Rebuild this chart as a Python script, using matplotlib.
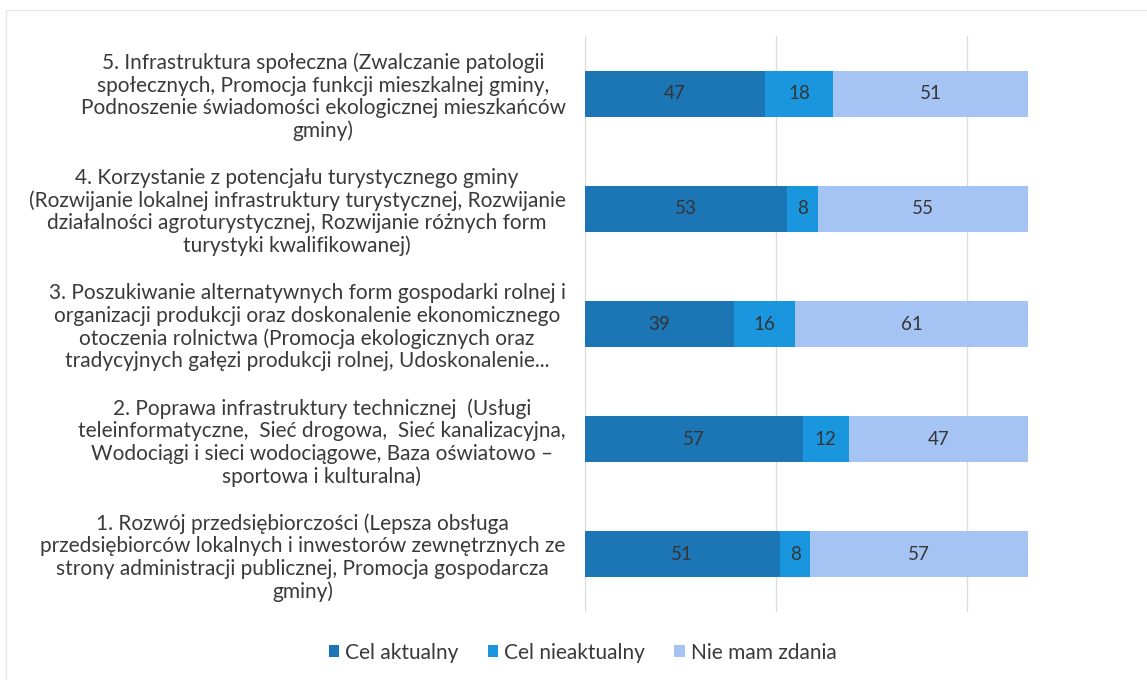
import matplotlib
matplotlib.use("Agg")
import matplotlib.pyplot as plt
from matplotlib.patches import Rectangle

plt.rcParams['font.family'] = ['Lato', 'DejaVu Sans']

kategorie = [
    "1. Rozwój przedsiębiorczości (Lepsza obsługa\n"
    "przedsiębiorców lokalnych i inwestorów zewnętrznych ze\n"
    "strony administracji publicznej, Promocja gospodarcza\n"
    "gminy)",
    "2. Poprawa infrastruktury technicznej  (Usługi\n"
    "teleinformatyczne,  Sieć drogowa,  Sieć kanalizacyjna,\n"
    "Wodociągi i sieci wodociągowe, Baza oświatowo –\n"
    "sportowa i kulturalna)",
    "3. Poszukiwanie alternatywnych form gospodarki rolnej i\n"
    "organizacji produkcji oraz doskonalenie ekonomicznego\n"
    "otoczenia rolnictwa (Promocja ekologicznych oraz\n"
    "tradycyjnych gałęzi produkcji rolnej, Udoskonalenie...",
    "4. Korzystanie z potencjału turystycznego gminy\n"
    "(Rozwijanie lokalnej infrastruktury turystycznej, Rozwijanie\n"
    "działalności agroturystycznej, Rozwijanie różnych form\n"
    "turystyki kwalifikowanej)",
    "5. Infrastruktura społeczna (Zwalczanie patologii\n"
    "społecznych, Promocja funkcji mieszkalnej gminy,\n"
    "Podnoszenie świadomości ekologicznej mieszkańców\n"
    "gminy)",
]
cel_aktualny = [51, 57, 39, 53, 47]
cel_nieaktualny = [8, 12, 16, 8, 18]
nie_mam_zdania = [57, 47, 61, 55, 51]

serie = ["Cel aktualny", "Cel nieaktualny", "Nie mam zdania"]
kolory = ["#1c75b5", "#1a96de", "#a6c4f3"]

fig = plt.figure(figsize=(11.47, 6.8), dpi=100)
# delikatna ramka obszaru wykresu
fig.patches.append(Rectangle((0.005, -0.1), 1.1, 1.085, transform=fig.transFigure,
                             fill=False, edgecolor="#e8e8e8", linewidth=1))
ax = fig.add_axes([0.510, 0.10, 0.4996, 0.847])

y = range(len(kategorie))
lewo = [0] * len(kategorie)
for nazwa, wartosci, kolor in zip(serie, [cel_aktualny, cel_nieaktualny, nie_mam_zdania], kolory):
    slupki = ax.barh(y, wartosci, left=lewo, height=0.40, color=kolor, label=nazwa, zorder=2)
    ax.bar_label(slupki, labels=[str(v) for v in wartosci], label_type='center',
                 fontsize=13.5, color="#353535")
    lewo = [a + b for a, b in zip(lewo, wartosci)]

ax.set_xlim(0, 150)
ax.set_ylim(-0.5, 4.5)
ax.set_xticks([0, 50, 100, 150])
ax.set_xticklabels([])
ax.grid(axis='x', color="#dcdcdc", linewidth=1, zorder=0)
ax.tick_params(length=0)
ax.set_yticks(list(y))
ax.set_yticklabels(kategorie, fontsize=15, color="#3a3a3a")
ax.tick_params(axis='y', pad=14)
for lbl in ax.get_yticklabels():
    lbl.set_multialignment('center')
    lbl.set_linespacing(1.15)
for s in ax.spines.values():
    s.set_visible(False)

fig.legend(loc='center', bbox_to_anchor=(0.508, 0.04), ncol=3, frameon=False,
           fontsize=15, handlelength=0.5, handleheight=0.5, handletextpad=0.3,
           columnspacing=1.4, labelcolor="#3a3a3a")

fig.savefig("out.png", dpi=100)
